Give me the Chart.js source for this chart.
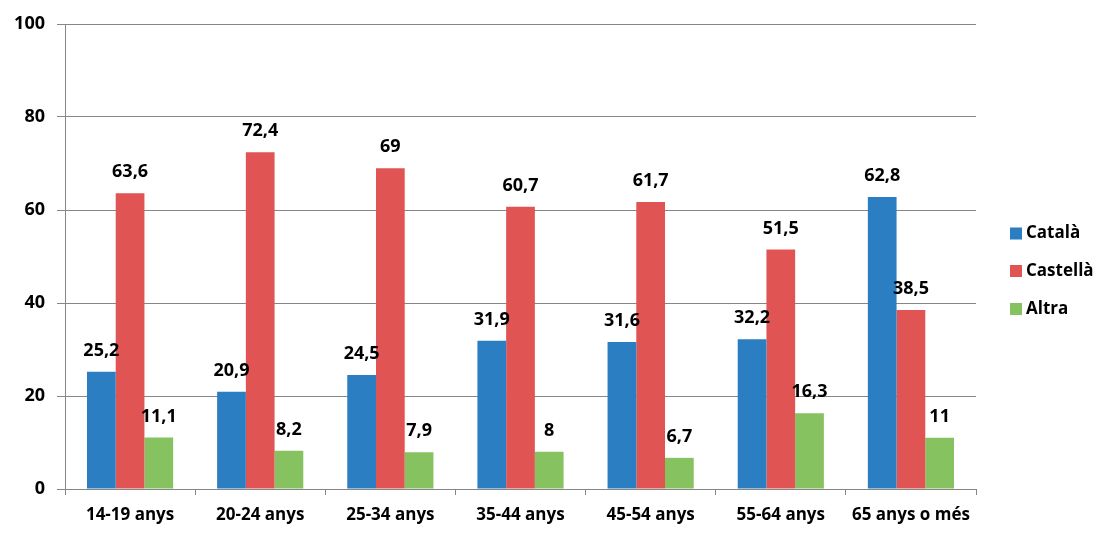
<!DOCTYPE html>
<html>
<head>
<meta charset="utf-8">
<script src="https://cdn.jsdelivr.net/npm/chart.js@4/dist/chart.umd.min.js"></script>
<style>
  html, body { margin: 0; padding: 0; background: #fff; }
  #wrap { width: 1110px; height: 539px; position: relative; }
</style>
</head>
<body>
<div id="wrap"><canvas id="chart"></canvas></div>
<script>
// Llengua per grups d'edat (%).
const AGE_GROUPS = ["14-19 anys", "20-24 anys", "25-34 anys", "35-44 anys", "45-54 anys", "55-64 anys", "65 anys o més"];
const CATALA   = [25.2, 20.9, 24.5, 31.9, 31.6, 32.2, 62.8];
const CASTELLA = [63.6, 72.4, 69, 60.7, 61.7, 51.5, 38.5];
const ALTRA    = [11.1, 8.2, 7.9, 8, 6.7, 16.3, 11];
const Y_TICKS  = [0, 20, 40, 60, 80, 100];

const COLORS = { catala: "#2A7EC1", castella: "#E05454", altra: "#86C25F" };
const GRID = "#868686";
const FONT = "'Open Sans', 'DejaVu Sans', sans-serif";

const fmtComma = (v) => String(v).replace(".", ",");

// value labels above every bar, Excel style
const barLabels = {
  id: "barLabels",
  afterDatasetsDraw(chart) {
    const ctx = chart.ctx;
    ctx.save();
    ctx.font = `bold 18px ${FONT}`;
    ctx.fillStyle = "#000";
    ctx.textAlign = "center";
    ctx.textBaseline = "middle";
    chart.data.datasets.forEach((ds, di) => {
      chart.getDatasetMeta(di).data.forEach((bar, i) => {
        ctx.fillText(fmtComma(ds.data[i]), bar.x, bar.y - 21);
      });
    });
    ctx.restore();
  },
};

// legend on the right, drawn by hand so the plot keeps its width
const sideLegend = {
  id: "sideLegend",
  afterDraw(chart) {
    const ctx = chart.ctx;
    const x = chart.chartArea.right + 34;
    const rows = [233.5, 271, 309];
    ctx.save();
    ctx.font = `bold 17px ${FONT}`;
    ctx.textBaseline = "middle";
    ctx.textAlign = "left";
    chart.data.datasets.forEach((ds, i) => {
      ctx.fillStyle = ds.backgroundColor;
      ctx.fillRect(x, rows[i] - 6, 12, 12);
      ctx.fillStyle = "#000";
      ctx.fillText(ds.label, x + 16, rows[i]);
    });
    ctx.restore();
  },
};

new Chart(document.getElementById("chart").getContext("2d"), {
  type: "bar",
  data: {
    labels: AGE_GROUPS,
    datasets: [
      { label: "Català", data: CATALA, backgroundColor: COLORS.catala },
      { label: "Castellà", data: CASTELLA, backgroundColor: COLORS.castella },
      { label: "Altra", data: ALTRA, backgroundColor: COLORS.altra },
    ],
  },
  plugins: [barLabels, sideLegend],
  options: {
    responsive: true,
    maintainAspectRatio: false,
    animation: false,
    layout: { padding: { top: 24, right: 134, bottom: 0, left: 0 } },
    datasets: { bar: { categoryPercentage: 0.662, barPercentage: 1.0, borderWidth: 0 } },
    plugins: {
      legend: { display: false },
      tooltip: { enabled: false },
    },
    scales: {
      x: {
        grid: { offset: true, drawOnChartArea: false, drawTicks: true, tickLength: 6, color: GRID },
        border: { display: true, color: GRID },
        ticks: { color: "#000", font: { family: FONT, size: 17, weight: "bold" }, padding: 10, maxRotation: 0 },
        afterFit: (s) => { s.height = 50; },
      },
      y: {
        min: 0,
        max: 100,
        afterBuildTicks: (s) => { s.ticks = Y_TICKS.map((v) => ({ value: v })); },
        grid: { color: GRID, lineWidth: 1, tickLength: 8 },
        border: { display: true, color: GRID },
        ticks: { color: "#000", font: { family: FONT, size: 18, weight: "bold" }, padding: 12 },
        afterFit: (s) => { s.width = 65; },
      },
    },
  },
});
</script>
</body>
</html>
